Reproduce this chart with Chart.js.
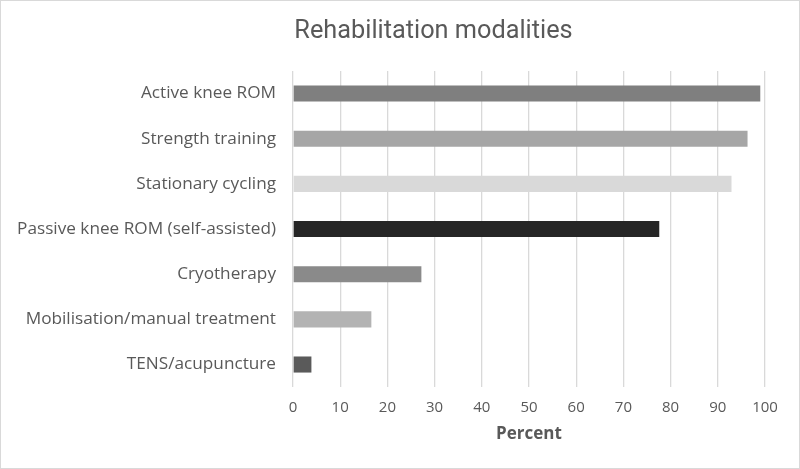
<!DOCTYPE html>
<html>
<head>
<meta charset="utf-8">
<script src="https://cdn.jsdelivr.net/npm/chart.js@4.4.0/dist/chart.umd.min.js"></script>
<style>
  html, body { margin: 0; padding: 0; background: #fff; }
  #wrap { position: relative; width: 800px; height: 469px; box-sizing: border-box; border: 1px solid #d9d9d9; }
  canvas { display: block; }
</style>
</head>
<body>
<div id="wrap"><canvas id="c"></canvas></div>
<script>
const categories = [
  "Active knee ROM",
  "Strength training",
  "Stationary cycling",
  "Passive knee ROM (self-assisted)",
  "Cryotherapy",
  "Mobilisation/manual treatment",
  "TENS/acupuncture"
];
const percentValues = [99, 96.3, 92.9, 77.6, 27.2, 16.6, 3.9];
const barColors = ["#7f7f7f", "#a6a6a6", "#d9d9d9", "#262626", "#8a8a8a", "#b3b3b3", "#5a5a5a"];
const xTicks = [0, 10, 20, 30, 40, 50, 60, 70, 80, 90, 100];
const chartTitle = 'Rehabilitation modalities';

const FONT = "'Open Sans', 'Liberation Sans', sans-serif";

const titlePlugin = {
  id: 'offsetTitle',
  afterDraw(chart) {
    const ctx = chart.ctx;
    ctx.save();
    ctx.font = "normal 25.3px Roboto, 'Open Sans', sans-serif";
    ctx.fillStyle = '#595959';
    ctx.textAlign = 'center';
    ctx.textBaseline = 'middle';
    ctx.fillText(chartTitle, 432.5, 31);
    ctx.restore();
  }
};

new Chart(document.getElementById('c'), {
  type: 'bar',
  data: {
    labels: categories,
    datasets: [{
      data: percentValues,
      backgroundColor: barColors,
      borderWidth: 0,
      categoryPercentage: 1.0,
      barPercentage: 0.356
    }]
  },
  options: {
    indexAxis: 'y',
    responsive: true,
    maintainAspectRatio: false,
    animation: false,
    layout: { padding: { top: 70, left: 12, right: 34, bottom: 23.5 } },
    plugins: {
      legend: { display: false },
      tooltip: { enabled: false },
      title: { display: false }
    },
    scales: {
      x: {
        min: 0,
        max: 100,
        afterBuildTicks: (scale) => { scale.ticks = xTicks.map(v => ({ value: v })); },
        grid: { color: '#d9d9d9', lineWidth: 1.3, drawTicks: false },
        border: { display: false },
        ticks: { color: '#595959', font: { family: FONT, size: 15 }, padding: 12, maxRotation: 0 },
        title: {
          display: true,
          text: 'Percent',
          color: '#595959',
          font: { family: FONT, size: 17, weight: 'bold' },
          padding: { top: -5, bottom: 0 }
        }
      },
      y: {
        grid: { display: false },
        border: { display: false },
        ticks: { color: '#595959', font: { family: FONT, size: 17.2 }, padding: 9 },
        afterFit: (scale) => { scale.width = 280; }
      }
    }
  },
  plugins: [titlePlugin]
});
</script>
</body>
</html>
